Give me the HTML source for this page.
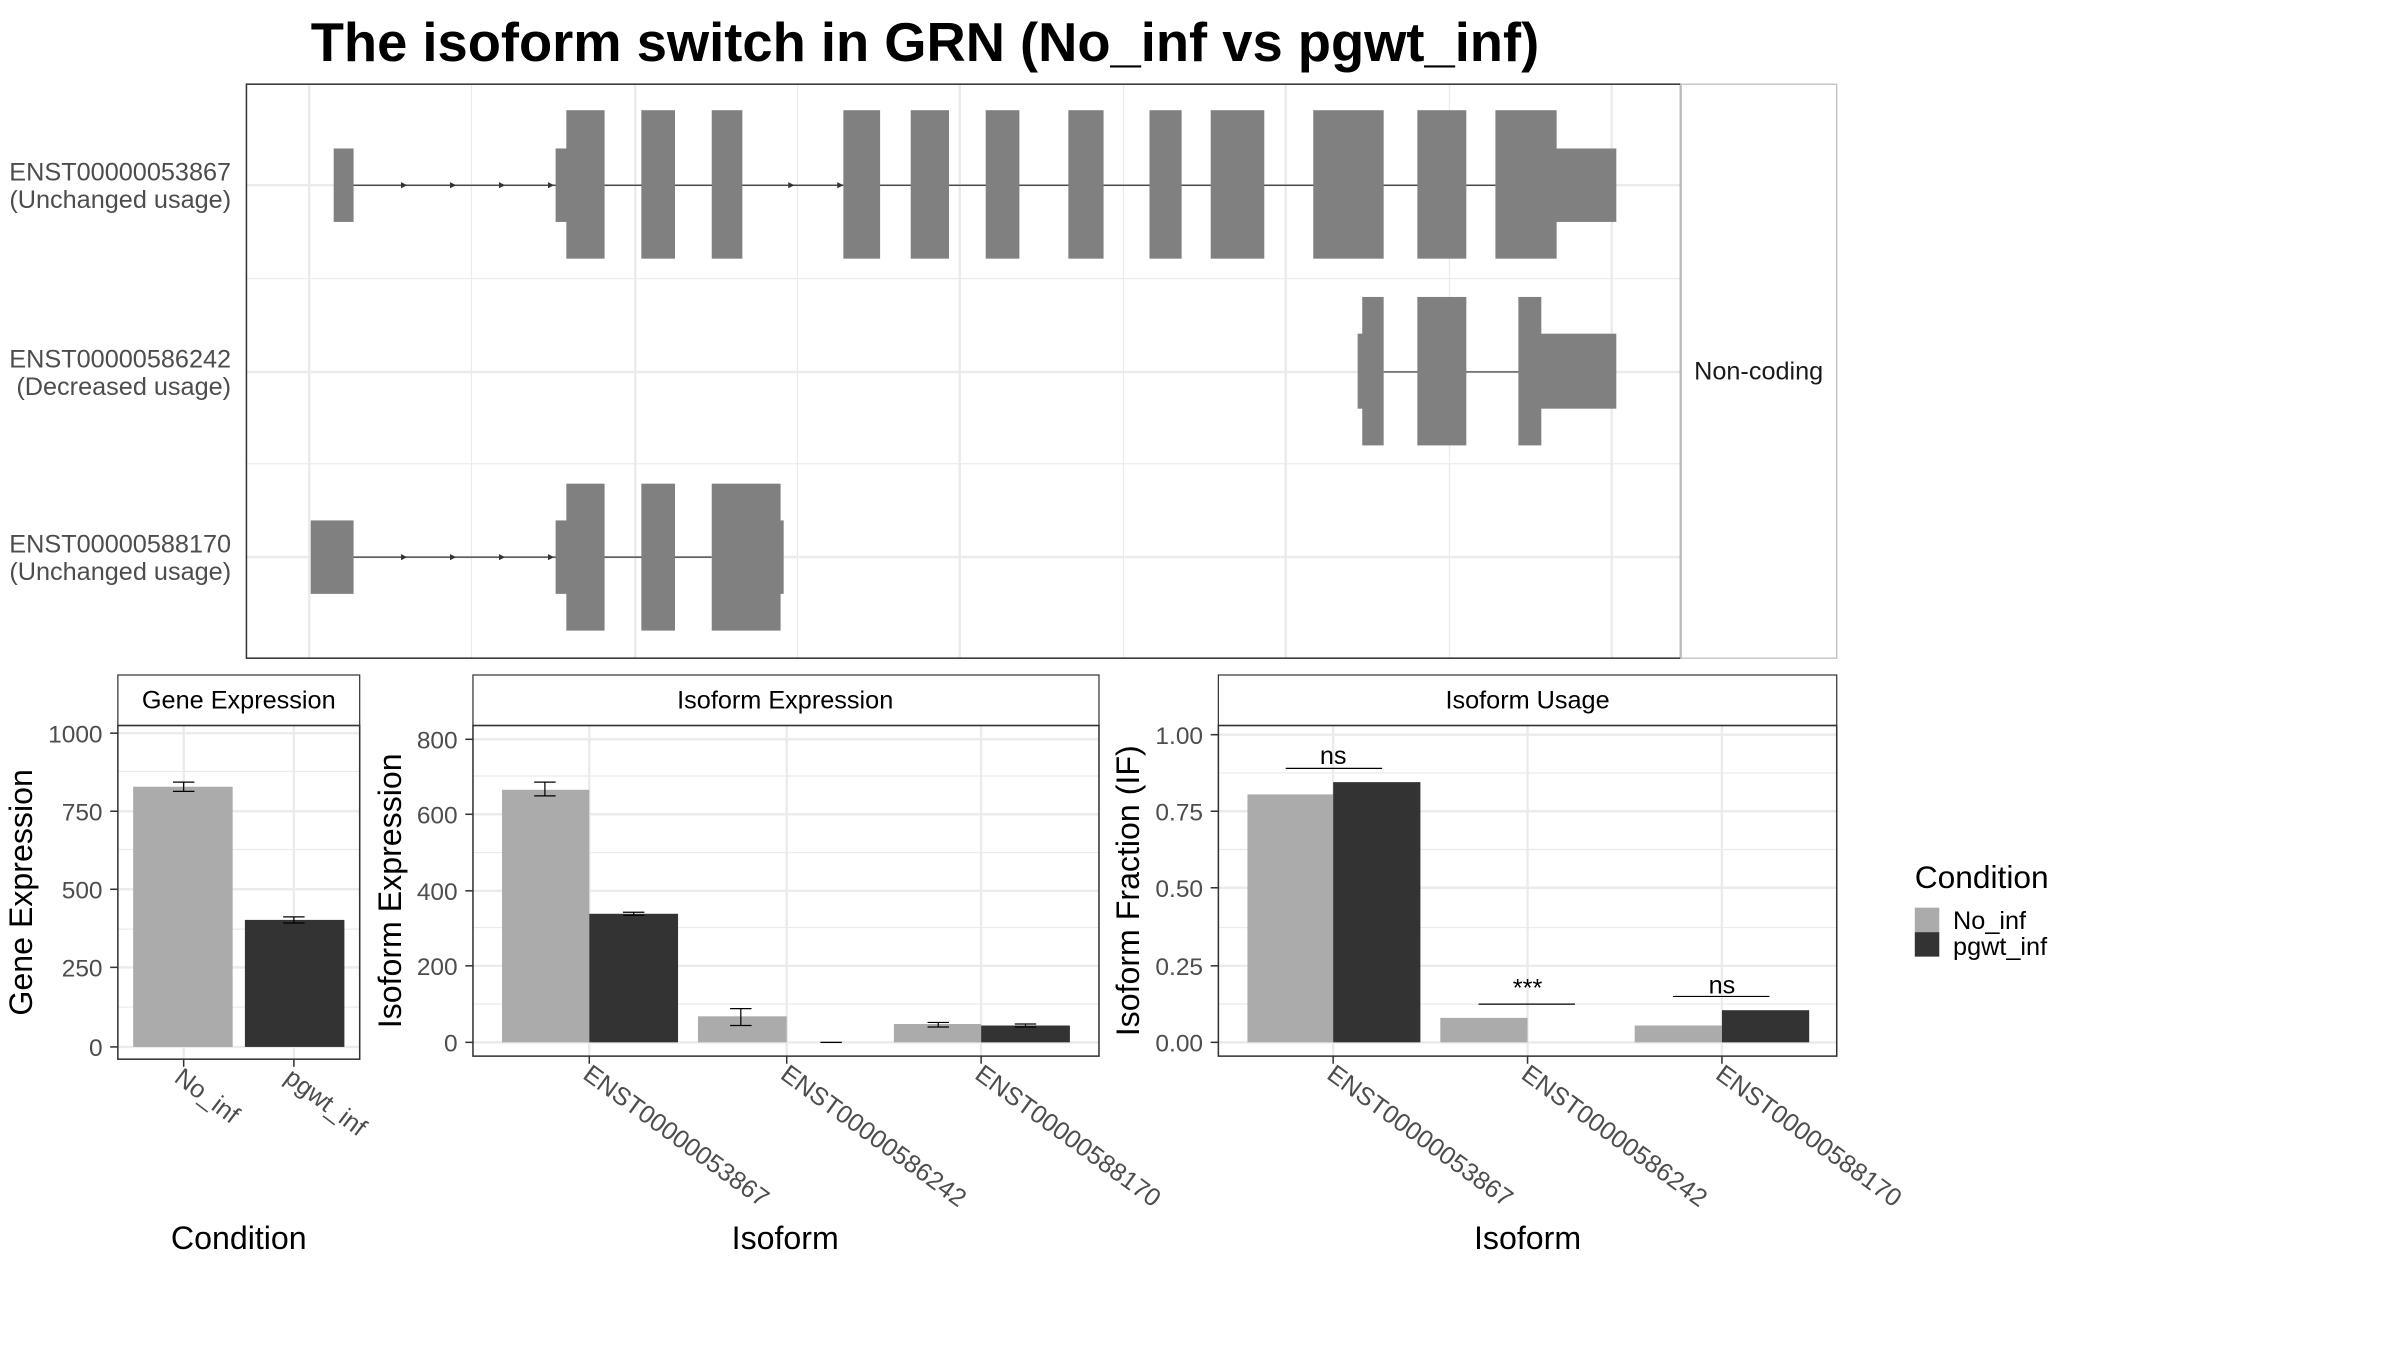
<!DOCTYPE html>
<html><head><meta charset="utf-8"><style>
html,body{margin:0;padding:0;background:#fff;}
svg{display:block;}
text{font-family:"Liberation Sans",sans-serif;}
</style></head><body>
<svg width="2400" height="1350" viewBox="0 0 1568 882" preserveAspectRatio="none" xmlns="http://www.w3.org/2000/svg">
<rect width="1568" height="882" fill="#fff"/>
<text x="203" y="40" font-size="35.5" font-weight="bold" fill="#000">The isoform switch in GRN (No_inf vs pgwt_inf)</text>

<g stroke="#ebebeb" stroke-width="1.6">
<line x1="202" y1="55" x2="202" y2="430"/><line x1="308" y1="55" x2="308" y2="430" stroke-width="0.8"/>
<line x1="415" y1="55" x2="415" y2="430"/><line x1="521" y1="55" x2="521" y2="430" stroke-width="0.8"/>
<line x1="627" y1="55" x2="627" y2="430"/><line x1="734" y1="55" x2="734" y2="430" stroke-width="0.8"/>
<line x1="840" y1="55" x2="840" y2="430"/><line x1="947" y1="55" x2="947" y2="430" stroke-width="0.8"/>
<line x1="1053" y1="55" x2="1053" y2="430"/>
<line x1="161" y1="121" x2="1098" y2="121"/><line x1="161" y1="243" x2="1098" y2="243"/><line x1="161" y1="364" x2="1098" y2="364"/>
<line x1="161" y1="182" x2="1098" y2="182" stroke-width="0.8"/><line x1="161" y1="303" x2="1098" y2="303" stroke-width="0.8"/>
</g>
<g fill="#808080">
<line x1="231" y1="121" x2="977" y2="121" stroke="#333" stroke-width="0.8"/>
<rect x="218" y="97" width="13" height="48"/><rect x="363" y="97" width="8" height="48"/>
<rect x="370" y="72" width="25" height="97"/><rect x="419" y="72" width="22" height="97"/><rect x="465" y="72" width="20" height="97"/>
<rect x="551" y="72" width="24" height="97"/><rect x="595" y="72" width="25" height="97"/><rect x="644" y="72" width="22" height="97"/>
<rect x="698" y="72" width="23" height="97"/><rect x="751" y="72" width="21" height="97"/><rect x="791" y="72" width="35" height="97"/>
<rect x="858" y="72" width="46" height="97"/><rect x="926" y="72" width="32" height="97"/><rect x="977" y="72" width="40" height="97"/>
<rect x="1016" y="97" width="40" height="48"/>
<line x1="904" y1="243" x2="992" y2="243" stroke="#333" stroke-width="0.8"/>
<rect x="887" y="218" width="4" height="49"/><rect x="890" y="194" width="14" height="97"/><rect x="926" y="194" width="32" height="97"/>
<rect x="992" y="194" width="15" height="97"/><rect x="1006" y="218" width="50" height="49"/>
<line x1="231" y1="364" x2="465" y2="364" stroke="#333" stroke-width="0.8"/>
<rect x="203" y="340" width="28" height="48"/><rect x="363" y="340" width="8" height="48"/>
<rect x="370" y="316" width="25" height="96"/><rect x="419" y="316" width="22" height="96"/><rect x="465" y="316" width="45" height="96"/>
<rect x="509" y="340" width="3" height="48"/>
</g>
<g fill="#333">
<path d="M262,119 L266,121 L262,123Z"/><path d="M294,119 L298,121 L294,123Z"/><path d="M326,119 L330,121 L326,123Z"/><path d="M358,119 L362,121 L358,123Z"/>
<path d="M515,119 L519,121 L515,123Z"/><path d="M547,119 L551,121 L547,123Z"/>
<path d="M262,362 L266,364 L262,366Z"/><path d="M294,362 L298,364 L294,366Z"/><path d="M326,362 L330,364 L326,366Z"/><path d="M358,362 L362,364 L358,366Z"/>
</g>
<rect x="161" y="55" width="937" height="375" fill="none" stroke="#333" stroke-width="1"/>
<rect x="1098" y="55" width="102" height="375" fill="none" stroke="#bbb" stroke-width="0.8"/>
<text x="1149" y="248" font-size="16.5" text-anchor="middle" fill="#1a1a1a">Non-coding</text>
<g font-size="16.5" fill="#4d4d4d" text-anchor="end">
<text x="151" y="118">ENST00000053867</text><text x="151" y="136">(Unchanged usage)</text>
<text x="151" y="240">ENST00000586242</text><text x="151" y="258">(Decreased usage)</text>
<text x="151" y="361">ENST00000588170</text><text x="151" y="379">(Unchanged usage)</text>
</g>

<!-- Gene Expression -->
<g stroke="#ebebeb">
<line x1="77" x2="235" y1="479" y2="479" stroke-width="1.6"/><line x1="77" x2="235" y1="530" y2="530" stroke-width="1.6"/>
<line x1="77" x2="235" y1="581" y2="581" stroke-width="1.6"/><line x1="77" x2="235" y1="632" y2="632" stroke-width="1.6"/>
<line x1="77" x2="235" y1="684" y2="684" stroke-width="1.6"/>
<line x1="77" x2="235" y1="504" y2="504" stroke-width="0.8"/><line x1="77" x2="235" y1="555" y2="555" stroke-width="0.8"/>
<line x1="77" x2="235" y1="607" y2="607" stroke-width="0.8"/><line x1="77" x2="235" y1="658" y2="658" stroke-width="0.8"/>
<line x1="120" x2="120" y1="474" y2="692" stroke-width="1.6"/><line x1="192" x2="192" y1="474" y2="692" stroke-width="1.6"/>
</g>
<rect x="87" y="514" width="65" height="170" fill="#ababab"/>
<rect x="160" y="601" width="65" height="83" fill="#333"/>
<g stroke="#000" stroke-width="0.8" fill="none">
<path d="M113,511 H127 M120,511 V517 M113,517 H127"/><path d="M185,599 H199 M192,599 V603 M185,603 H199"/>
</g>
<rect x="77" y="441" width="158" height="33" fill="#fff" stroke="#333" stroke-width="0.8"/>
<text x="156" y="463" font-size="16.5" text-anchor="middle">Gene Expression</text>
<rect x="77" y="474" width="158" height="218" fill="none" stroke="#333" stroke-width="1"/>
<g font-size="16" fill="#4d4d4d" text-anchor="end">
<text x="67" y="485">1000</text><text x="67" y="536">750</text><text x="67" y="587">500</text><text x="67" y="638">250</text><text x="67" y="690">0</text>
</g>
<g stroke="#333"><line x1="72" x2="77" y1="479" y2="479"/><line x1="72" x2="77" y1="530" y2="530"/><line x1="72" x2="77" y1="581" y2="581"/><line x1="72" x2="77" y1="632" y2="632"/><line x1="72" x2="77" y1="684" y2="684"/>
<line x1="120" x2="120" y1="692" y2="697"/><line x1="192" x2="192" y1="692" y2="697"/></g>
<g font-size="16.5" fill="#4d4d4d">
<text transform="translate(113,706) rotate(37)">No_inf</text>
<text transform="translate(185,706) rotate(37)">pgwt_inf</text>
</g>
<text x="156" y="816" font-size="21" text-anchor="middle">Condition</text>
<text transform="translate(21,583) rotate(-90)" font-size="21" text-anchor="middle">Gene Expression</text>

<!-- Isoform Expression -->
<g stroke="#ebebeb">
<line x1="309" x2="718" y1="483" y2="483" stroke-width="1.6"/><line x1="309" x2="718" y1="532" y2="532" stroke-width="1.6"/>
<line x1="309" x2="718" y1="582" y2="582" stroke-width="1.6"/><line x1="309" x2="718" y1="631" y2="631" stroke-width="1.6"/>
<line x1="309" x2="718" y1="681" y2="681" stroke-width="1.6"/>
<line x1="309" x2="718" y1="507" y2="507" stroke-width="0.8"/><line x1="309" x2="718" y1="557" y2="557" stroke-width="0.8"/>
<line x1="309" x2="718" y1="606" y2="606" stroke-width="0.8"/><line x1="309" x2="718" y1="656" y2="656" stroke-width="0.8"/>
<line x1="385" x2="385" y1="474" y2="690" stroke-width="1.6"/><line x1="514" x2="514" y1="474" y2="690" stroke-width="1.6"/><line x1="641" x2="641" y1="474" y2="690" stroke-width="1.6"/>
</g>
<rect x="328" y="516" width="57" height="165" fill="#ababab"/><rect x="385" y="597" width="58" height="84" fill="#333"/>
<rect x="456" y="664" width="58" height="17" fill="#ababab"/>
<rect x="584" y="669" width="57" height="12" fill="#ababab"/><rect x="641" y="670" width="58" height="11" fill="#333"/>
<g stroke="#000" stroke-width="0.8" fill="none">
<path d="M349,511 H363 M356,511 V520 M349,520 H363"/><path d="M407,596 H421 M414,596 V598 M407,598 H421"/>
<path d="M477,659 H491 M484,659 V670 M477,670 H491"/><path d="M536,681 H550"/>
<path d="M606,668 H620 M613,668 V671 M606,671 H620"/><path d="M663,669 H677 M670,669 V671 M663,671 H677"/>
</g>
<rect x="309" y="441" width="409" height="33" fill="#fff" stroke="#333" stroke-width="0.8"/>
<text x="513" y="463" font-size="16.5" text-anchor="middle">Isoform Expression</text>
<rect x="309" y="474" width="409" height="216" fill="none" stroke="#333" stroke-width="1"/>
<g font-size="16" fill="#4d4d4d" text-anchor="end">
<text x="299" y="489">800</text><text x="299" y="538">600</text><text x="299" y="588">400</text><text x="299" y="637">200</text><text x="299" y="687">0</text>
</g>
<g stroke="#333"><line x1="304" x2="309" y1="483" y2="483"/><line x1="304" x2="309" y1="532" y2="532"/><line x1="304" x2="309" y1="582" y2="582"/><line x1="304" x2="309" y1="631" y2="631"/><line x1="304" x2="309" y1="681" y2="681"/>
<line x1="385" x2="385" y1="690" y2="695"/><line x1="514" x2="514" y1="690" y2="695"/><line x1="641" x2="641" y1="690" y2="695"/></g>
<g font-size="16.5" fill="#4d4d4d">
<text transform="translate(380,704) rotate(36)">ENST00000053867</text>
<text transform="translate(509,704) rotate(36)">ENST00000586242</text>
<text transform="translate(636,704) rotate(36)">ENST00000588170</text>
</g>
<text x="513" y="816" font-size="21" text-anchor="middle">Isoform</text>
<text transform="translate(262,582) rotate(-90)" font-size="21" text-anchor="middle">Isoform Expression</text>

<!-- Isoform Usage -->
<g stroke="#ebebeb">
<line x1="796" x2="1200" y1="480" y2="480" stroke-width="1.6"/><line x1="796" x2="1200" y1="530" y2="530" stroke-width="1.6"/>
<line x1="796" x2="1200" y1="580" y2="580" stroke-width="1.6"/><line x1="796" x2="1200" y1="631" y2="631" stroke-width="1.6"/>
<line x1="796" x2="1200" y1="681" y2="681" stroke-width="1.6"/>
<line x1="796" x2="1200" y1="505" y2="505" stroke-width="0.8"/><line x1="796" x2="1200" y1="555" y2="555" stroke-width="0.8"/>
<line x1="796" x2="1200" y1="606" y2="606" stroke-width="0.8"/><line x1="796" x2="1200" y1="656" y2="656" stroke-width="0.8"/>
<line x1="871" x2="871" y1="474" y2="690" stroke-width="1.6"/><line x1="998" x2="998" y1="474" y2="690" stroke-width="1.6"/><line x1="1125" x2="1125" y1="474" y2="690" stroke-width="1.6"/>
</g>
<rect x="815" y="519" width="56" height="162" fill="#ababab"/><rect x="871" y="511" width="57" height="170" fill="#333"/>
<rect x="941" y="665" width="57" height="16" fill="#ababab"/>
<rect x="1068" y="670" width="57" height="11" fill="#ababab"/><rect x="1125" y="660" width="57" height="21" fill="#333"/>
<g stroke="#000" stroke-width="0.8">
<line x1="840" x2="903" y1="502" y2="502"/><line x1="966" x2="1029" y1="656" y2="656"/><line x1="1093" x2="1156" y1="651" y2="651"/>
</g>
<g font-size="16.5" text-anchor="middle">
<text x="871" y="499">ns</text><text x="998" y="651">***</text><text x="1125" y="649">ns</text>
</g>
<rect x="796" y="441" width="404" height="33" fill="#fff" stroke="#333" stroke-width="0.8"/>
<text x="998" y="463" font-size="16.5" text-anchor="middle">Isoform Usage</text>
<rect x="796" y="474" width="404" height="216" fill="none" stroke="#333" stroke-width="1"/>
<g font-size="16" fill="#4d4d4d" text-anchor="end">
<text x="786" y="486">1.00</text><text x="786" y="536">0.75</text><text x="786" y="586">0.50</text><text x="786" y="637">0.25</text><text x="786" y="687">0.00</text>
</g>
<g stroke="#333"><line x1="791" x2="796" y1="480" y2="480"/><line x1="791" x2="796" y1="530" y2="530"/><line x1="791" x2="796" y1="580" y2="580"/><line x1="791" x2="796" y1="631" y2="631"/><line x1="791" x2="796" y1="681" y2="681"/>
<line x1="871" x2="871" y1="690" y2="695"/><line x1="998" x2="998" y1="690" y2="695"/><line x1="1125" x2="1125" y1="690" y2="695"/></g>
<g font-size="16.5" fill="#4d4d4d">
<text transform="translate(866,704) rotate(36)">ENST00000053867</text>
<text transform="translate(993,704) rotate(36)">ENST00000586242</text>
<text transform="translate(1120,704) rotate(36)">ENST00000588170</text>
</g>
<text x="998" y="816" font-size="21" text-anchor="middle">Isoform</text>
<text transform="translate(744,582) rotate(-90)" font-size="21" text-anchor="middle">Isoform Fraction (IF)</text>

<text x="1251" y="580" font-size="20.7">Condition</text>
<rect x="1251" y="593" width="16" height="16" fill="#ababab"/><rect x="1251" y="609" width="16" height="16" fill="#333"/>
<text x="1276" y="607" font-size="16.5">No_inf</text><text x="1276" y="624" font-size="16.5">pgwt_inf</text>
</svg>
</body></html>
